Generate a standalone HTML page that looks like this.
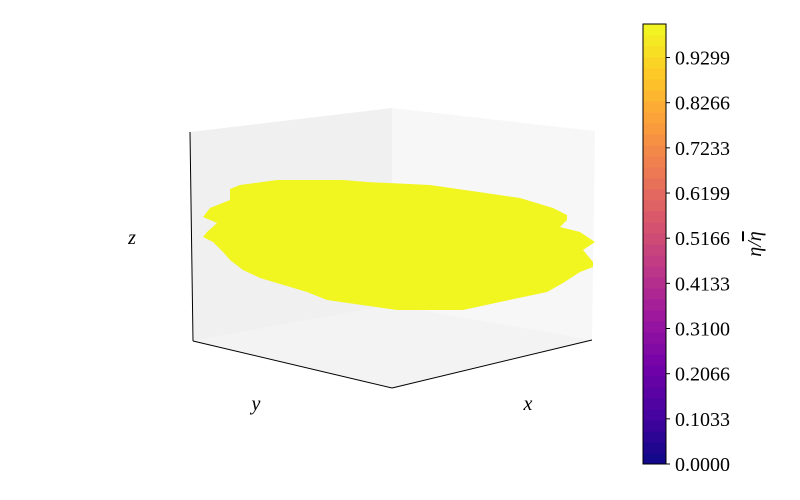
<!DOCTYPE html>
<html><head><meta charset="utf-8"><style>
html,body{margin:0;padding:0;background:#fff;}
svg{display:block;font-family:"Liberation Serif",serif;}
</style></head><body>
<svg id="chart" width="800" height="500" viewBox="0 0 800 500">
  <polygon points="190,132 392,108 392,305 193,341" fill="#f0f0f0"/>
  <polygon points="392,108 595,131 592,340 392,305" fill="#f7f7f7"/>
  <polygon points="193,341 392,305 592,340 392,388" fill="#f3f3f3"/>
  <g id="blob"></g>
  <line x1="190" y1="132" x2="193" y2="341" stroke="#000" stroke-width="1"/>
  <line x1="193" y1="341" x2="392" y2="388" stroke="#000" stroke-width="1"/>
  <line x1="392" y1="388" x2="592" y2="340" stroke="#000" stroke-width="1"/>
  <text x="132" y="244" font-size="20" font-style="italic" text-anchor="middle">z</text>
  <text x="256" y="410" font-size="20" font-style="italic" text-anchor="middle">y</text>
  <text x="528" y="410" font-size="20" font-style="italic" text-anchor="middle">x</text>
  <g id="cbar"></g>
  <text transform="translate(761,244) rotate(-90)" font-size="20" font-style="italic" text-anchor="middle"><tspan>η/</tspan><tspan text-decoration="overline">η</tspan></text>
</svg>
<script>
const blobX = [230,240,277,343,367,430,520,553,567,567,560,580,595,583,593,593,580,563,547,500,463,397,327,307,260,243,230,223,213,203,207,217,203,210,230];
const blobY = [189,185,180,180,182,185,198,208,215,220,227,232,242,250,262,267,272,283,292,302,310,310,300,292,278,270,260,252,242,237,232,223,217,208,200];
const blobValue = [1.0];
const tickValues = [0.0000,0.1033,0.2066,0.3100,0.4133,0.5166,0.6199,0.7233,0.8266,0.9299];
const tickLabels = ["0.0000","0.1033","0.2066","0.3100","0.4133","0.5166","0.6199","0.7233","0.8266","0.9299"];
const cMin = 0, cMax = 1.0066;
const plasma = ["#0d0887","#46039f","#7201a8","#9c179e","#bd3786","#d8576b","#ed7953","#fb9f3a","#fdca26","#f0f921"];
function lerpC(a,b,t){const pa=parseInt(a.slice(1),16),pb=parseInt(b.slice(1),16);
  const r=Math.round(((pa>>16)&255)*(1-t)+((pb>>16)&255)*t),g=Math.round(((pa>>8)&255)*(1-t)+((pb>>8)&255)*t),bl=Math.round((pa&255)*(1-t)+(pb&255)*t);
  return `rgb(${r},${g},${bl})`;}
function cmap(v){const t=Math.max(0,Math.min(1,(v-cMin)/(cMax-cMin)))*(plasma.length-1);const i=Math.min(plasma.length-2,Math.floor(t));return lerpC(plasma[i],plasma[i+1],t-i);}
const NS="http://www.w3.org/2000/svg";
const cbX=643,cbW=23,cbTop=24,cbBot=464;
function cy(v){return cbBot-(v-cMin)/(cMax-cMin)*(cbBot-cbTop);}
const blobG=document.getElementById('blob');
const poly=document.createElementNS(NS,'polygon');
poly.setAttribute('points',blobX.map((x,i)=>x+','+blobY[i]).join(' '));
poly.setAttribute('fill',cmap(blobValue[0]));


blobG.appendChild(poly);
const cb=document.getElementById('cbar');
const N=40;
for(let i=0;i<N;i++){
  const v0=cMin+(cMax-cMin)*i/N,v1=cMin+(cMax-cMin)*(i+1)/N;
  const r=document.createElementNS(NS,'rect');
  r.setAttribute('x',cbX);r.setAttribute('y',cy(v1));r.setAttribute('width',cbW);r.setAttribute('height',cy(v0)-cy(v1)+0.5);
  r.setAttribute('fill',cmap((v0+v1)/2));
  
  
  cb.appendChild(r);
}
const fr=document.createElementNS(NS,'rect');
fr.setAttribute('x',cbX);fr.setAttribute('y',cbTop);fr.setAttribute('width',cbW);fr.setAttribute('height',cbBot-cbTop);
fr.setAttribute('fill','none');fr.setAttribute('stroke','#000');fr.setAttribute('stroke-width','1');


cb.appendChild(fr);
tickValues.forEach((v,i)=>{
  const y=cy(v);
  const l=document.createElementNS(NS,'line');
  l.setAttribute('x1',cbX+cbW);l.setAttribute('x2',cbX+cbW+4);l.setAttribute('y1',y);l.setAttribute('y2',y);
  l.setAttribute('stroke','#000');
  
  
  cb.appendChild(l);
  const t=document.createElementNS(NS,'text');
  t.setAttribute('x',cbX+cbW+9);t.setAttribute('y',y+7);t.setAttribute('font-size','20');
  t.textContent=tickLabels[i];
  
  
  cb.appendChild(t);
});
</script>
</body></html>
